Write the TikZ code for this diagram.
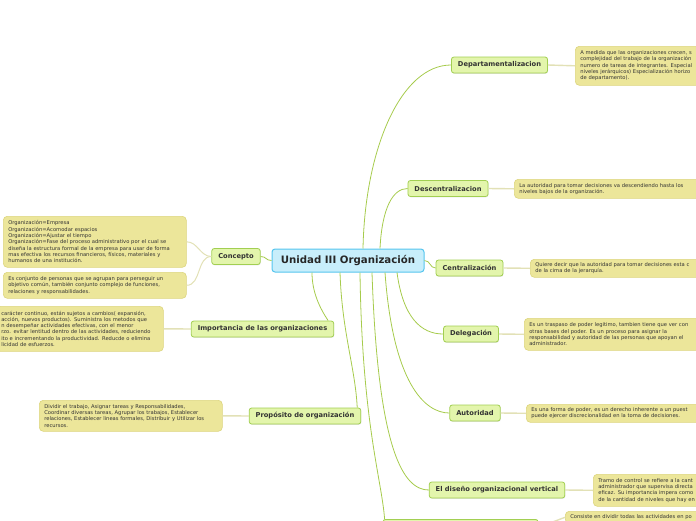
\documentclass[tikz,border=0pt]{standalone}
\usepackage{fontspec}
\setmainfont{DejaVu Sans}
\usetikzlibrary{shadows}
\definecolor{rootfill}{HTML}{C8EEFB}
\definecolor{rootline}{HTML}{55C5EE}
\definecolor{topicfill}{HTML}{E3F5AC}
\definecolor{topicline}{HTML}{A2CF52}
\definecolor{leaffill}{HTML}{ECE69A}
\definecolor{leafline}{HTML}{DCD57E}
\definecolor{branchgreen}{HTML}{A6CB4C}
\definecolor{twiggray}{HTML}{E2E1B6}
\definecolor{ink}{HTML}{333333}
\tikzset{
  root/.style={draw=rootline, fill=rootfill, line width=1pt, rounded corners=3pt,
    font=\fontsize{10.2}{11}\selectfont\bfseries, text=black!85, minimum width=152pt, minimum height=23pt},
  topic/.style={draw=topicline, fill=topicfill, line width=0.8pt, rounded corners=2.5pt,
    font=\fontsize{6.7}{7.5}\selectfont\bfseries, text=ink, minimum height=16pt, inner xsep=6.5pt,
    drop shadow={shadow xshift=0.5pt, shadow yshift=-0.8pt, opacity=0.2}},
  leaf/.style={draw=leafline, fill=leaffill, line width=0.6pt, rounded corners=4pt,
    font=\fontsize{5.2}{6.3}\selectfont, text=ink, align=left, anchor=north west,
    inner xsep=5pt, inner ysep=2pt, text width=#1},
  branch/.style={draw=branchgreen, line width=0.8pt},
  twig/.style={draw=twiggray, line width=1.4pt}
}
\begin{document}
\begin{tikzpicture}[x=1pt,y=-1pt]
\clip (0,0) rectangle (696,520);
\node[root] (unidad) at (348,260.5) {Unidad III Organización};
% left side
\node[topic] (concepto) at (236,256.5) {Concepto};
\node[topic] (importancia) at (262.5,329) {Importancia de las organizaciones};
\node[topic] (proposito) at (305,416) {Propósito de organización};
% right side
\node[topic] (departamento) at (499.5,65) {Departamentalizacion};
\node[topic] (descentral) at (448,188.5) {Descentralizacion};
\node[topic] (central) at (469.5,268) {Centralización};
\node[topic] (delegacion) at (471,334) {Delegación};
\node[topic] (autoridad) at (475,413) {Autoridad};
\node[topic] (diseno) at (497,490) {El diseño organizacional vertical};
\node[topic, minimum width=155pt, anchor=north] (division) at (460.5,519) {};
% notes
\node[leaf=173pt, minimum height=51pt] (conceptoA) at (3,216) {Organización=Empresa\\
  Organización=Acomodar espacios\\ Organización=Ajustar el tiempo\\
  Organización=Fase del proceso administrativo por el cual se\\
  diseña la estructura formal de la empresa para usar de forma\\
  mas efectiva los recursos financieros, físicos, materiales y\\
  humanos de una institución.};
\node[leaf=173pt, minimum height=26pt] (conceptoB) at (3,272) {Es conjunto de personas que se agrupan para perseguir un\\
  objetivo común, también conjunto complejo de funciones,\\ relaciones y responsabilidades.};
\node[leaf=157pt, minimum height=45pt] (importanciaT) at (-4,306) {carácter continuo, están sujetos a cambios( expansión,\\
  acción, nuevos productos). Suministra los metodos que\\
  n desempeñar actividades efectivas, con el menor\\
  rzo. evitar lentitud dentro de las actividades, reduciendo\\
  ito e incrementando la productividad. Reducde o elimina\\ licidad de esfuerzos.};
\node[leaf=173pt, minimum height=31pt] (propositoT) at (39,400) {Dividir el trabajo, Asignar tareas y Responsabilidades,\\
  Coordinar diversas tareas, Agrupar los trabajos, Establecer\\
  relaciones, Establecer lineas formales, Distribuir y Utilizar los\\ recursos.};
\node[leaf=170pt, minimum height=39pt] (departamentoT) at (575,46) {A medida que las organizaciones crecen, s\\
  complejidad del trabajo de la organización\\ numero de tareas de integrantes. Especial\\
  niveles jerárquicos) Especialización horizo\\ de departamento).};
\node[leaf=190pt, minimum height=19pt] (descentralT) at (514,179) {La autoridad para tomar decisiones va descendiendo hasta los\\
  niveles bajos de la organización.};
\node[leaf=190pt, minimum height=18pt] (centralT) at (530,259) {Quiere decir que la autoridad para tomar decisiones esta c\\
  de la cima de la jerarquía.};
\node[leaf=190pt, minimum height=32pt] (delegacionT) at (524,318) {Es un traspaso de poder legitimo, tambien tiene que ver con\\
  otras bases del poder. Es un proceso para asignar la\\
  responsabilidad y autoridad de las personas que apoyan el\\ administrador.};
\node[leaf=190pt, minimum height=18pt] (autoridadT) at (526,404) {Es una forma de poder, es un derecho inherente a un puest\\
  puede ejercer discrecionalidad en la toma de decisiones.};
\node[leaf=150pt, minimum height=32pt] (disenoT) at (593,474) {Tramo de control se refiere a la cant\\
  administrador que supervisa directa\\ eficaz. Su importancia impera como\\ de la cantidad de niveles que hay en};
\node[leaf=170pt, minimum height=12pt] (divisionT) at (565,511) {Consiste en dividir todas las actividades en po};
% branches
\draw[branch] (concepto.east) .. controls +(6,0) and +(-6,0) .. (unidad.west);
\draw[branch] ([xshift=-36pt]unidad.south) .. controls +(0,20) and +(-8,-12) .. ([xshift=-6pt]importancia.north east);
\draw[branch] ([xshift=-8pt]unidad.south) .. controls +(2,60) and +(-2,-40) .. ([xshift=-4pt]proposito.north east);
\draw[branch] ([xshift=15pt]unidad.north) .. controls +(2,-100) and +(-50,0) .. (departamento.west);
\draw[branch] ([xshift=32pt]unidad.north) .. controls +(2,-40) and +(-15,0) .. (descentral.west);
\draw[branch] (unidad.east) .. controls +(6,0) and +(-6,0) .. (central.west);
\draw[branch] ([xshift=49pt]unidad.south) .. controls +(6,45) and +(-22,0) .. (delegacion.west);
\draw[branch] ([xshift=37pt]unidad.south) .. controls +(8,110) and +(-25,0) .. (autoridad.west);
\draw[branch] ([xshift=24pt]unidad.south) .. controls +(6,180) and +(-25,0) .. (diseno.west);
\draw[branch] ([xshift=12pt]unidad.south) .. controls +(2,150) and +(-3,-40) .. ([xshift=2pt]division.north west);
% twigs
\draw[twiggray, line width=1pt] (concepto.west) to[out=180,in=0] (conceptoA.east);
\draw[twiggray, line width=1pt] (concepto.west) to[out=180,in=0] (conceptoB.east);
\draw[twig] (importancia.west) -- (importanciaT.east);
\draw[twig] (proposito.west) -- (propositoT.east);
\draw[twig] (departamento.east) -- (departamentoT.west);
\draw[twig] (descentral.east) -- (descentralT.west);
\draw[twig] (central.east) -- (centralT.west);
\draw[twig] (delegacion.east) -- (delegacionT.west);
\draw[twig] (autoridad.east) -- (autoridadT.west);
\draw[twig] (diseno.east) -- (disenoT.west);
\draw[twig] (division.east) -- (divisionT.west);
\end{tikzpicture}
\end{document}
